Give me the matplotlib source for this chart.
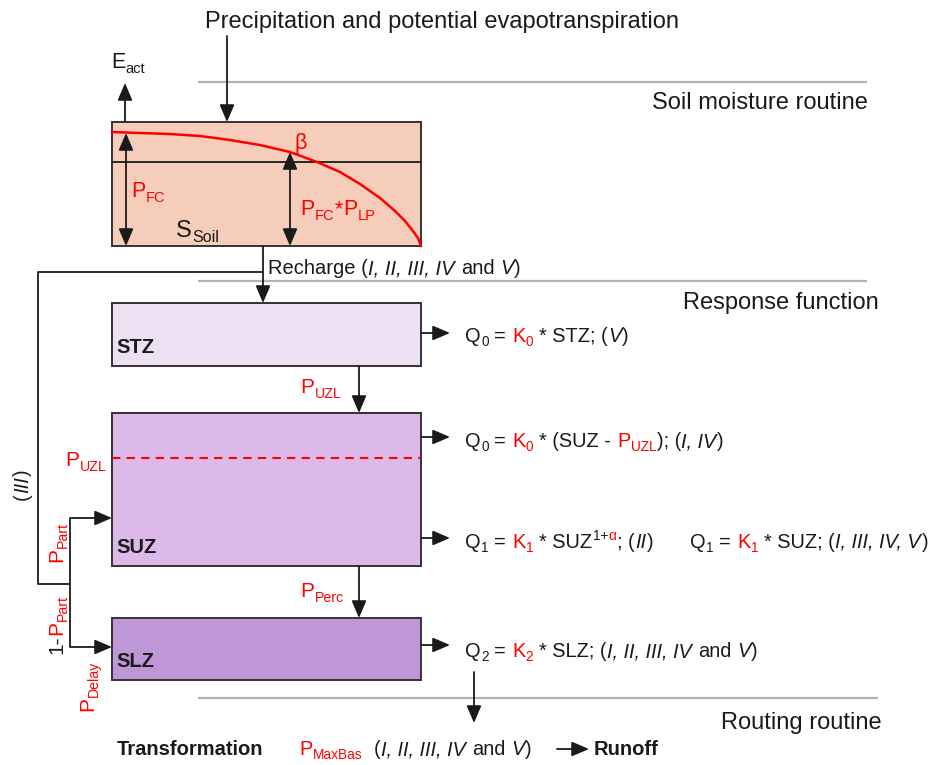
import matplotlib
matplotlib.use('Agg')
import matplotlib.pyplot as plt
from matplotlib.patches import Rectangle

plt.rcParams['font.family'] = ['Liberation Sans', 'DejaVu Sans']

RED = '#FF0000'
K = '#1A1A1A'

# --- content -------------------------------------------------------------
title = 'Precipitation and potential evapotranspiration'
sections = ['Soil moisture routine', 'Response function', 'Routing routine']
stores = ['STZ', 'SUZ', 'SLZ']
store_colors = ['#ECE0F2', '#DCB9E8', '#BF97D7']
soil_color = '#F5CDBA'
# beta curve (pixel coords)
curve_x = [112, 140, 170, 200, 230, 260, 290, 317, 340, 360, 380, 395, 405, 413, 418, 421]
curve_y = [132, 133, 134, 136, 140, 145, 152, 162, 172, 184, 198, 211, 221, 231, 238, 246]

fig = plt.figure(figsize=(9.34, 7.65), dpi=100)
ax = fig.add_axes([0, 0, 1, 1])
ax.set_xlim(0, 934)
ax.set_ylim(765, 0)
ax.axis('off')
rend = fig.canvas.get_renderer()


def rich(x, y, parts, size=15, rot=0):
    # parts: (text, color, kind) with kind in n, i, b, sub, sup
    ux, uy = (1, 0) if rot == 0 else (0, -1)
    dx, dy = (0, 1) if rot == 0 else (1, 0)
    px = size * 100 / 72
    for s, color, kind in parts:
        fs = size * 0.68 if kind in ('sub', 'sup') else size
        off = 0.22 * px if kind == 'sub' else (-0.42 * px if kind == 'sup' else 0)
        sp = 0.278 * fs * 100 / 72
        lead = len(s) - len(s.lstrip(' '))
        trail = len(s) - len(s.rstrip(' '))
        x += ux * lead * sp
        y += uy * lead * sp
        t = ax.text(x + dx * off, y + dy * off, s.strip(' '), fontsize=fs, color=color,
                    rotation=rot, rotation_mode='anchor', ha='left', va='baseline',
                    fontweight='bold' if kind == 'b' else 'normal',
                    fontstyle='italic' if kind == 'i' else 'normal')
        bb = t.get_window_extent(renderer=rend)
        w = (bb.width if rot == 0 else bb.height) + trail * sp + 0.02 * px
        x += ux * w
        y += uy * w


def arrow(x0, y0, x1, y1, style='-|>'):
    ax.annotate('', xy=(x1, y1), xytext=(x0, y0),
                arrowprops=dict(arrowstyle=style + ',head_length=0.75,head_width=0.32',
                                color=K, lw=1.3, shrinkA=0, shrinkB=0, mutation_scale=14))


def line(xs, ys, **kw):
    kw.setdefault('color', K)
    kw.setdefault('lw', 1.3)
    ax.plot(xs, ys, solid_capstyle='butt', **kw)


# --- section separators and labels ---------------------------------------
for yy, x1 in [(82, 867), (281, 867), (698, 878)]:
    line([198, x1], [yy, yy], color='#B3B3B3', lw=1.6)
ax.text(442, 22, title, fontsize=17, ha='center', va='center', color=K)
for s, xr, yy in zip(sections, [868, 879, 882], [103, 303, 723]):
    ax.text(xr, yy, s, fontsize=17, ha='right', va='center', color=K)

# --- soil moisture box ---------------------------------------------------
ax.add_patch(Rectangle((112, 122), 309, 124, fc=soil_color, ec='#333333', lw=1.4))
line([112, 421], [162, 162])
ax.plot(curve_x, curve_y, color=RED, lw=1.8)
arrow(227, 36, 227, 122)
arrow(125, 122, 125, 83)
rich(111, 68, [('E', K, 'n'), ('act', K, 'sub')], size=15.5)
arrow(126, 133, 126, 246, '<|-|>')
arrow(290, 152, 290, 246, '<|-|>')
rich(131, 197, [('P', RED, 'n'), ('FC', RED, 'sub')], size=15.5)
rich(300, 215, [('P', RED, 'n'), ('FC', RED, 'sub'), ('*', RED, 'n'),
                ('P', RED, 'n'), ('LP', RED, 'sub')], size=15.5)
rich(294, 149, [('β', RED, 'n')], size=15.5)
rich(176, 237, [('S', K, 'n'), ('Soil', K, 'sub')], size=17)

# recharge
arrow(263, 246, 263, 303)
rich(268, 274, [('Recharge (', K, 'n'), ('I, II, III, IV', K, 'i'), (' and ', K, 'n'),
                ('V', K, 'i'), (')', K, 'n')], size=14.5)

# --- response boxes -------------------------------------------------------
tops = [303, 413, 618]
bots = [366, 566, 680]
for name, c, t0, b0 in zip(stores, store_colors, tops, bots):
    ax.add_patch(Rectangle((112, t0), 309, b0 - t0, fc=c, ec='#333333', lw=1.4))
    rich(116, b0 - 13, [(name, K, 'b')], size=14.5)
line([112, 421], [458, 458], color=RED, lw=1.5, ls=(0, (4, 3)))
rich(65, 466, [('P', RED, 'n'), ('UZL', RED, 'sub')])

arrow(359, 366, 359, 413)
rich(300, 393, [('P', RED, 'n'), ('UZL', RED, 'sub')])
arrow(359, 566, 359, 618)
rich(300, 597, [('P', RED, 'n'), ('Perc', RED, 'sub')])

# outflows
fq = 14.4
for yy in [333, 437, 538, 645]:
    arrow(421, yy, 450, yy)
rich(465, 342, [('Q', K, 'n'), ('0', K, 'sub'), (' = ', K, 'n'), ('K', RED, 'n'), ('0', RED, 'sub'),
                (' * STZ; (', K, 'n'), ('V', K, 'i'), (')', K, 'n')], size=fq)
rich(465, 447, [('Q', K, 'n'), ('0', K, 'sub'), (' = ', K, 'n'), ('K', RED, 'n'), ('0', RED, 'sub'),
                (' * (SUZ - ', K, 'n'), ('P', RED, 'n'), ('UZL', RED, 'sub'), ('); (', K, 'n'),
                ('I, IV', K, 'i'), (')', K, 'n')], size=fq)
rich(465, 548, [('Q', K, 'n'), ('1', K, 'sub'), (' = ', K, 'n'), ('K', RED, 'n'), ('1', RED, 'sub'),
                (' * SUZ', K, 'n'), ('1+', K, 'sup'), ('α', RED, 'sup'), ('; (', K, 'n'),
                ('II', K, 'i'), (')', K, 'n')], size=fq)
rich(690, 548, [('Q', K, 'n'), ('1', K, 'sub'), (' = ', K, 'n'), ('K', RED, 'n'), ('1', RED, 'sub'),
                (' * SUZ; (', K, 'n'), ('I, III, IV, V', K, 'i'), (')', K, 'n')], size=fq)
rich(465, 657, [('Q', K, 'n'), ('2', K, 'sub'), (' = ', K, 'n'), ('K', RED, 'n'), ('2', RED, 'sub'),
                (' * SLZ; (', K, 'n'), ('I, II, III, IV', K, 'i'), (' and ', K, 'n'),
                ('V', K, 'i'), (')', K, 'n')], size=fq)

# bypass / partition lines
line([263, 38, 38, 70], [272, 272, 584, 584])
line([70, 70], [518, 647])
arrow(70, 518, 112, 518)
arrow(70, 647, 112, 647)
rich(28, 500, [('(', K, 'n'), ('III', K, 'i'), (')', K, 'n')], size=14.5, rot=90)
rich(62, 562, [('P', RED, 'n'), ('Part', RED, 'sub')], rot=90)
rich(62, 654, [('1-', K, 'n'), ('P', RED, 'n'), ('Part', RED, 'sub')], rot=90)
rich(93, 711, [('P', RED, 'n'), ('Delay', RED, 'sub')], rot=90)

# --- routing --------------------------------------------------------------
arrow(474, 672, 474, 723)
rich(117, 755, [('Transformation', K, 'b')], size=14.5)
rich(299, 755, [('P', RED, 'n'), ('MaxBas', RED, 'sub'), ('  (', K, 'n'),
                ('I, II, III, IV', K, 'i'), (' and ', K, 'n'), ('V', K, 'i'), (')', K, 'n')], size=fq)
arrow(557, 749, 589, 749)
rich(594, 755, [('Runoff', K, 'b')], size=14.5)

fig.savefig('out.png', dpi=100)
